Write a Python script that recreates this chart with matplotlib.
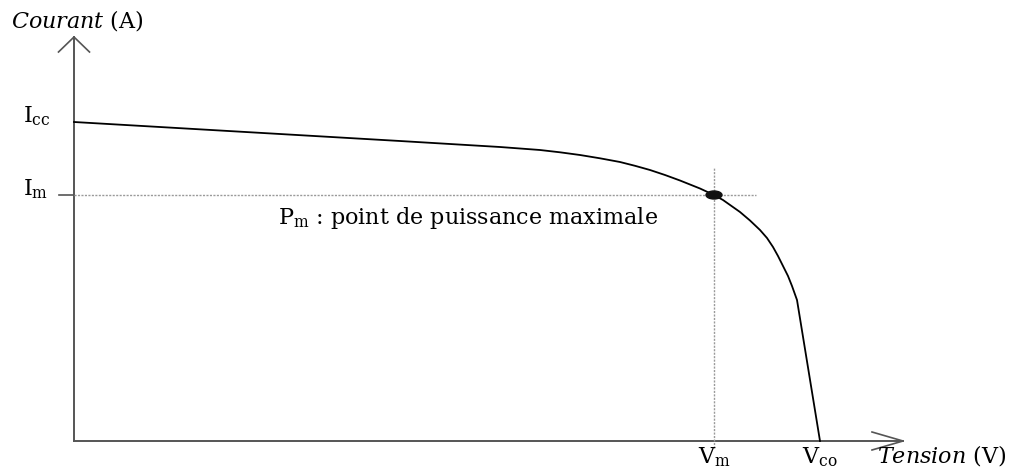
import matplotlib.pyplot as plt
from matplotlib.patches import Ellipse

plt.rcParams["font.family"] = ["DejaVu Serif"]
plt.rcParams["mathtext.fontset"] = "dejavuserif"

# I-V characteristic of a solar cell (arbitrary units)
tension = [0.00, 3.26, 4.26, 4.46, 4.66, 4.86, 5.06, 5.26, 5.46, 5.61,
           5.76, 5.91, 6.06, 6.26, 6.40, 6.49, 6.66, 6.76, 6.86, 6.93,
           6.99, 7.04, 7.09, 7.14, 7.18, 7.23, 7.46]
courant = [3.19, 3.00, 2.94, 2.925, 2.91, 2.887, 2.86, 2.827, 2.79, 2.752,
           2.71, 2.66, 2.605, 2.525, 2.46, 2.41, 2.29, 2.205, 2.11, 2.03,
           1.94, 1.85, 1.75, 1.65, 1.55, 1.41, 0.00]

i_cc = 3.19
i_m = 2.46
v_m = 6.40
v_co = 7.46

AXIS = "#555555"
GUIDE = "#9a9a9a"

fig = plt.figure(figsize=(10.19, 4.74), dpi=100)
ax = fig.add_axes([0, 0, 1, 1])
ax.set_xlim(-0.74, 9.45)
ax.set_ylim(-0.33, 4.41)
ax.axis("off")

# axes with open arrow heads
ax.plot([0, 0], [0, 4.04], color=AXIS, lw=1.4)
ax.plot([-0.155, 0, 0.155], [3.89, 4.04, 3.89], color=AXIS, lw=1.2)
ax.plot([0, 8.29], [0, 0], color=AXIS, lw=1.4)
ax.plot([7.98, 8.29, 7.98], [0.09, 0, -0.09], color=AXIS, lw=1.2)

# maximum power point guides
ax.plot([-0.15, 0], [i_m, i_m], color=AXIS, lw=1.2)
ax.plot([0, v_m + 0.42], [i_m, i_m], color=GUIDE, lw=1, ls=(0, (1.5, 1)))
ax.plot([v_m, v_m], [-0.07, i_m + 0.27], color=GUIDE, lw=1, ls=(0, (1.5, 1)))

ax.plot(tension, courant, color="black", lw=1.3, solid_joinstyle="round")
ax.add_patch(Ellipse((v_m, i_m), 0.16, 0.08, color="#111111", zorder=5))

fs = 16
ax.text(-0.51, i_cc, r"$\mathrm{I_{cc}}$", fontsize=fs, va="baseline")
ax.text(-0.51, i_m, r"$\mathrm{I_m}$", fontsize=fs, va="baseline")
ax.text(v_m, -0.22, r"$\mathrm{V_m}$", fontsize=fs, ha="center", va="baseline")
ax.text(v_co, -0.22, r"$\mathrm{V_{co}}$", fontsize=fs, ha="center", va="baseline")
ax.text(8.03, -0.22, r"$\mathit{Tension}$ (V)", fontsize=fs, va="baseline")
ax.text(-0.63, 4.14, r"$\mathit{Courant}$ (A)", fontsize=fs, va="baseline")
ax.text(2.04, 2.17, r"$\mathrm{P_m}$ : point de puissance maximale",
        fontsize=fs, va="baseline")

fig.savefig("out.png", dpi=100)
